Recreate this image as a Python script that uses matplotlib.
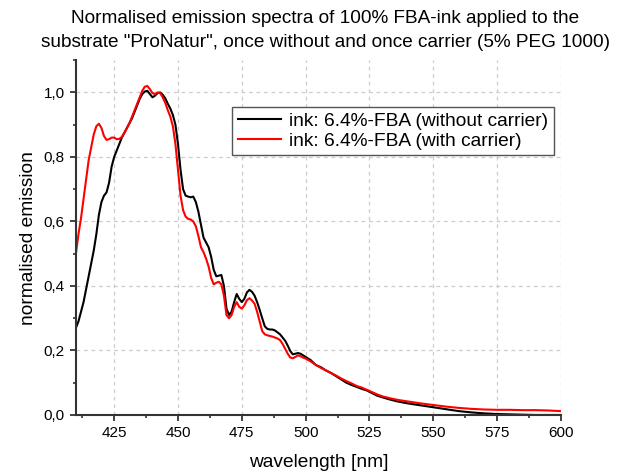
import matplotlib
matplotlib.use("Agg")
import matplotlib.pyplot as plt
from matplotlib.ticker import MultipleLocator, FuncFormatter

plt.rcParams['font.family'] = ['Liberation Sans', 'DejaVu Sans']

wl_black = [410, 411, 412, 413, 414, 415, 416, 417, 418, 419, 420, 421, 422, 423, 424, 425,
            426, 427, 428, 429, 430, 431, 432, 433, 434, 435, 436, 437, 438, 439, 440, 441,
            442, 443, 444, 445, 446, 447, 448, 449, 450, 451, 452, 453, 454, 455, 456, 457,
            458, 459, 460, 461, 462, 463, 464, 465, 466, 467, 468, 469, 470, 471, 472, 473,
            474, 475, 476, 477, 478, 479, 480, 481, 482, 483, 484, 485, 486, 487, 488, 489,
            490, 491, 492, 493, 494, 495, 496, 497, 498, 499, 500, 502, 504, 506, 508, 510,
            512, 514, 516, 518, 520, 522, 524, 526, 528, 530, 533, 536, 540, 545, 550, 555,
            560, 565, 570, 575, 580, 585, 590, 595, 600]
em_black = [0.27, 0.29, 0.32, 0.35, 0.39, 0.43, 0.47, 0.51, 0.56, 0.62, 0.66, 0.68, 0.69, 0.72, 0.77, 0.80,
            0.82, 0.84, 0.86, 0.875, 0.89, 0.905, 0.92, 0.94, 0.96, 0.98, 0.995, 1.003, 1.005, 0.995, 0.985, 0.99,
            0.998, 1.0, 0.993, 0.982, 0.965, 0.95, 0.93, 0.90, 0.84, 0.76, 0.70, 0.68, 0.677, 0.675, 0.677, 0.66,
            0.63, 0.59, 0.55, 0.535, 0.52, 0.49, 0.45, 0.43, 0.432, 0.434, 0.40, 0.33, 0.31, 0.32, 0.35, 0.375,
            0.36, 0.35, 0.36, 0.38, 0.388, 0.382, 0.37, 0.35, 0.326, 0.30, 0.275, 0.267, 0.265, 0.265, 0.262, 0.256,
            0.25, 0.24, 0.23, 0.215, 0.198, 0.188, 0.19, 0.192, 0.19, 0.185, 0.18, 0.17, 0.155, 0.148, 0.138, 0.13,
            0.12, 0.11, 0.10, 0.093, 0.087, 0.081, 0.076, 0.068, 0.06, 0.055, 0.048, 0.042, 0.036, 0.03, 0.024, 0.018,
            0.012, 0.008, 0.005, 0.003, 0.002, 0.001, 0.0, 0.0, 0.0]

wl_red = wl_black
em_red = [0.50, 0.56, 0.61, 0.67, 0.73, 0.79, 0.83, 0.87, 0.895, 0.903, 0.89, 0.865, 0.853, 0.855, 0.86, 0.86,
          0.855, 0.856, 0.862, 0.875, 0.89, 0.905, 0.925, 0.945, 0.965, 0.985, 1.005, 1.018, 1.02, 1.01, 0.998, 0.995,
          1.0, 0.998, 0.985, 0.968, 0.945, 0.925, 0.895, 0.84, 0.76, 0.68, 0.635, 0.615, 0.608, 0.606, 0.6, 0.585,
          0.555, 0.52, 0.505, 0.485, 0.46, 0.425, 0.405, 0.41, 0.413, 0.405, 0.37, 0.31, 0.30, 0.31, 0.335, 0.35,
          0.335, 0.33, 0.34, 0.356, 0.362, 0.355, 0.345, 0.32, 0.29, 0.26, 0.25, 0.247, 0.245, 0.243, 0.24, 0.237,
          0.232, 0.22, 0.205, 0.19, 0.178, 0.176, 0.18, 0.185, 0.182, 0.178, 0.175, 0.166, 0.155, 0.146, 0.138, 0.13,
          0.122, 0.113, 0.105, 0.098, 0.09, 0.085, 0.078, 0.071, 0.064, 0.058, 0.052, 0.047, 0.042, 0.036, 0.031, 0.026,
          0.022, 0.019, 0.017, 0.016, 0.016, 0.015, 0.015, 0.014, 0.012]

label_black = "ink: 6.4%-FBA (without carrier)"
label_red = "ink: 6.4%-FBA (with carrier)"
title = 'Normalised emission spectra of 100% FBA-ink applied to the\nsubstrate "ProNatur", once without and once carrier (5% PEG 1000)'

fig = plt.figure(figsize=(6.17, 4.74), dpi=100)
ax = fig.add_axes([0.123, 0.1245, 0.786, 0.7485])

ax.plot(wl_black, em_black, color='black', lw=1.5, label=label_black)
ax.plot(wl_red, em_red, color='#ff0000', lw=1.5, label=label_red)

ax.set_xlim(410, 600)
ax.set_ylim(0, 1.1)
ax.xaxis.set_major_locator(MultipleLocator(25))
ax.xaxis.set_minor_locator(MultipleLocator(12.5))
ax.yaxis.set_major_locator(MultipleLocator(0.2))
ax.yaxis.set_minor_locator(MultipleLocator(0.1))
ax.yaxis.set_major_formatter(FuncFormatter(lambda v, p: f"{v:.1f}".replace('.', ',')))

for s in ['top', 'right']:
    ax.spines[s].set_visible(False)
for s in ['left', 'bottom']:
    ax.spines[s].set_color('#333333')
    ax.spines[s].set_linewidth(1.5)
ax.tick_params(which='major', direction='out', length=4.5, width=1.3, color='#333333', labelsize=11, pad=3.5)
ax.tick_params(which='minor', direction='out', length=2.5, width=1.2, color='#333333')
ax.grid(True, which='major', color='#cccccc', linestyle=(0, (3, 3)), lw=0.9)
ax.set_axisbelow(True)

ax.set_xlabel('wavelength [nm]', fontsize=13.8, labelpad=10)
ax.set_ylabel('normalised emission', fontsize=13.8, labelpad=5)

leg = ax.legend(loc='upper right', bbox_to_anchor=(0.985, 0.868), fontsize=13.8,
                fancybox=False, edgecolor='#555555', framealpha=1, borderpad=0.3,
                handlelength=2.25, handletextpad=0.4, labelspacing=0.1, borderaxespad=0)
leg.get_frame().set_linewidth(1.0)

fig.text(0.527, 0.978, title, ha='center', va='top', fontsize=13.7, linespacing=1.5)

fig.savefig('out.png', dpi=100)
